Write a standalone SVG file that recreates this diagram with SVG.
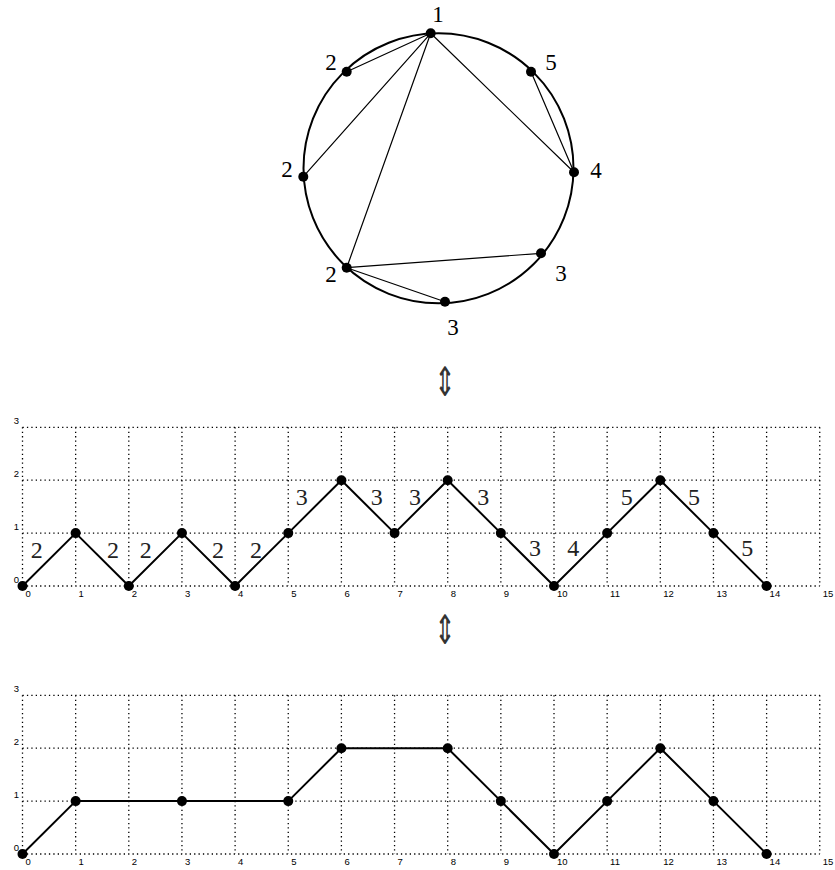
<svg xmlns="http://www.w3.org/2000/svg" xmlns:xlink="http://www.w3.org/1999/xlink" width="835" height="870" viewBox="0 0 835 870">
<style>
.grid{stroke:#000;stroke-width:1.3;stroke-dasharray:1.3 3.1;fill:none}
.tick{font-family:"Liberation Sans",Arial,sans-serif;font-size:9.5px;fill:#000}
.lab{font-family:"Liberation Serif","DejaVu Serif",serif;font-size:23px;fill:#000;text-anchor:middle}
.glab{font-family:"Liberation Serif","DejaVu Serif",serif;font-size:24px;fill:#222;text-anchor:middle}
.path{stroke:#000;stroke-width:2;fill:none;stroke-linejoin:round}
.chord{stroke:#000;stroke-width:1.2;fill:none}
.arrow{font-family:"DejaVu Sans",sans-serif;font-size:30px;fill:#333;text-anchor:middle}
circle.d{r:5}
</style>
<defs>
<g id="gridbase">
<path class="grid" d="M22.5 586H819.75M22.5 533.1H819.75M22.5 480.2H819.75M22.5 427.3H819.75M22.5 427.3V586M75.65 427.3V586M128.8 427.3V586M181.95 427.3V586M235.1 427.3V586M288.25 427.3V586M341.4 427.3V586M394.55 427.3V586M447.7 427.3V586M500.85 427.3V586M554 427.3V586M607.15 427.3V586M660.3 427.3V586M713.45 427.3V586M766.6 427.3V586M819.75 427.3V586"/>
<g class="tick">
<text x="25.5" y="597">0</text><text x="78.6" y="597">1</text><text x="131.8" y="597">2</text><text x="185" y="597">3</text><text x="238.1" y="597">4</text><text x="291.2" y="597">5</text><text x="344.4" y="597">6</text><text x="397.5" y="597">7</text><text x="450.7" y="597">8</text><text x="503.8" y="597">9</text><text x="557" y="597">10</text><text x="610.1" y="597">11</text><text x="663.3" y="597">12</text><text x="716.4" y="597">13</text><text x="769.6" y="597">14</text><text x="822.7" y="597">15</text>
<text x="19" y="583" text-anchor="end">0</text><text x="19" y="530" text-anchor="end">1</text><text x="19" y="477" text-anchor="end">2</text><text x="19" y="424" text-anchor="end">3</text>
</g>
</g>
</defs>

<g id="circle-diagram">
<circle cx="438.5" cy="168.3" r="135" fill="none" stroke="#000" stroke-width="2"/>
<g id="chords">
<path class="chord" d="M430.7 33.3L346.7 71.7M430.7 33.3L303.3 176.7M430.7 33.3L346.7 267.7M430.7 33.3L574 172.3M531 71.7L574 172.3M346.7 267.7L541 253.3M346.7 267.7L445 301.7"/>
</g>
<g id="c1"><circle cx="430.7" cy="33.3" r="5"/><text class="lab" x="438" y="22">1</text></g>
<g id="c2a"><circle cx="346.7" cy="71.7" r="5"/><text class="lab" x="331" y="70">2</text></g>
<g id="c2b"><circle cx="303.3" cy="176.7" r="5"/><text class="lab" x="287" y="177">2</text></g>
<g id="c2c"><circle cx="346.7" cy="267.7" r="5"/><text class="lab" x="331" y="282">2</text></g>
<g id="c3a"><circle cx="445" cy="301.7" r="5"/><text class="lab" x="453" y="335">3</text></g>
<g id="c3b"><circle cx="541" cy="253.3" r="5"/><text class="lab" x="561" y="281">3</text></g>
<g id="c4"><circle cx="574" cy="172.3" r="5"/><text class="lab" x="596" y="178">4</text></g>
<g id="c5"><circle cx="531" cy="71.7" r="5"/><text class="lab" x="551" y="70">5</text></g>
</g>

<text class="arrow" transform="translate(445,385) scale(0.85,1.35)" x="0" y="8">⇕</text>
<text class="arrow" transform="translate(445,633) scale(0.85,1.35)" x="0" y="8">⇕</text>

<g id="grid1">
<use xlink:href="#gridbase"/>
<path class="path" d="M22.5 586L75.65 533.1L128.8 586L181.95 533.1L235.1 586L288.25 533.1L341.4 480.2L394.55 533.1L447.7 480.2L500.85 533.1L554 586L607.15 533.1L660.3 480.2L713.45 533.1L766.6 586"/>
<g id="dots1">
<circle cx="22.5" cy="586" r="5"/><circle cx="75.65" cy="533.1" r="5"/><circle cx="128.8" cy="586" r="5"/><circle cx="181.95" cy="533.1" r="5"/><circle cx="235.1" cy="586" r="5"/><circle cx="288.25" cy="533.1" r="5"/><circle cx="341.4" cy="480.2" r="5"/><circle cx="394.55" cy="533.1" r="5"/><circle cx="447.7" cy="480.2" r="5"/><circle cx="500.85" cy="533.1" r="5"/><circle cx="554" cy="586" r="5"/><circle cx="607.15" cy="533.1" r="5"/><circle cx="660.3" cy="480.2" r="5"/><circle cx="713.45" cy="533.1" r="5"/><circle cx="766.6" cy="586" r="5"/>
</g>
<g id="steplabels">
<text class="glab" x="36.7" y="558">2</text><text class="glab" x="113" y="558">2</text><text class="glab" x="145.7" y="558">2</text><text class="glab" x="218" y="558">2</text><text class="glab" x="256" y="558">2</text>
<text class="glab" x="301.7" y="505">3</text><text class="glab" x="376.7" y="505">3</text><text class="glab" x="415" y="505">3</text><text class="glab" x="483.3" y="505">3</text><text class="glab" x="535" y="556">3</text>
<text class="glab" x="573.3" y="556">4</text>
<text class="glab" x="626.7" y="505">5</text><text class="glab" x="694" y="505">5</text><text class="glab" x="747.3" y="556">5</text>
</g>
</g>

<g id="grid2" transform="translate(0,268)">
<use xlink:href="#gridbase"/>
<path class="path" d="M22.5 586L75.65 533.1L181.95 533.1L288.25 533.1L341.4 480.2L447.7 480.2L500.85 533.1L554 586L607.15 533.1L660.3 480.2L713.45 533.1L766.6 586"/>
<g id="dots2">
<circle cx="22.5" cy="586" r="5"/><circle cx="75.65" cy="533.1" r="5"/><circle cx="181.95" cy="533.1" r="5"/><circle cx="288.25" cy="533.1" r="5"/><circle cx="341.4" cy="480.2" r="5"/><circle cx="447.7" cy="480.2" r="5"/><circle cx="500.85" cy="533.1" r="5"/><circle cx="554" cy="586" r="5"/><circle cx="607.15" cy="533.1" r="5"/><circle cx="660.3" cy="480.2" r="5"/><circle cx="713.45" cy="533.1" r="5"/><circle cx="766.6" cy="586" r="5"/>
</g>
</g>
</svg>
